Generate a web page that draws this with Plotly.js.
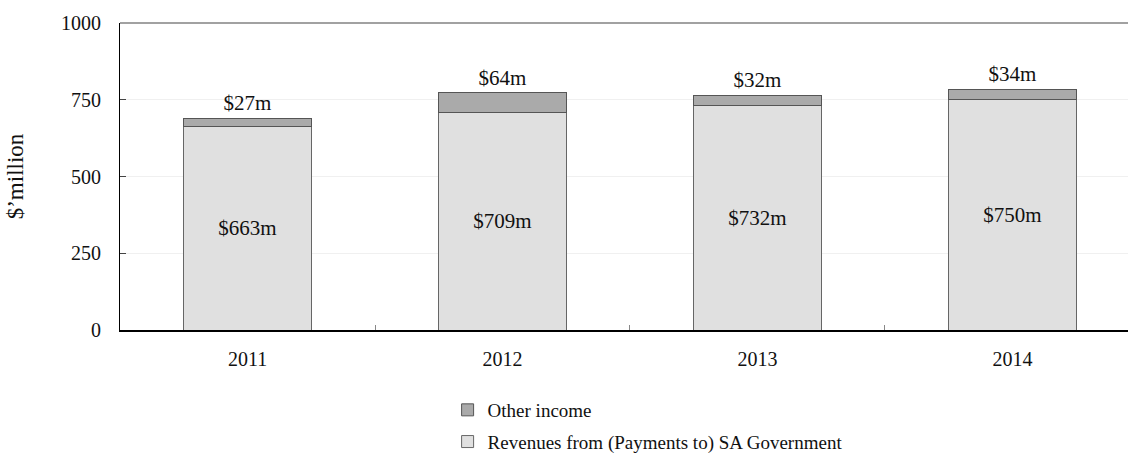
<!DOCTYPE html>
<html>
<head>
<meta charset="utf-8">
<script src="https://cdn.plot.ly/plotly-3.0.1.min.js"></script>
<style>html,body{margin:0;padding:0;background:#fff;}#chart{width:1128px;height:461px;}</style>
</head>
<body>
<div id="chart"></div>
<script>
const years = ['2011', '2012', '2013', '2014'];
const revenues = [663, 709, 732, 750];
const otherIncome = [27, 64, 32, 34];
const yTicks = [0, 250, 500, 750, 1000];

const FONT = '"Liberation Serif", "Times New Roman", serif';

const traces = [
  {
    type: 'bar', x: years, y: revenues, name: 'Revenues from (Payments to) SA Government',
    legendgroup: 'a', legendrank: 2,
    marker: {color: '#e0e0e0', line: {color: '#666666', width: 1}},
    width: 0.5,
    text: revenues.map(v => '$' + v + 'm'), textposition: 'inside', insidetextanchor: 'middle',
    textfont: {family: FONT, size: 21, color: '#111'},
    hoverinfo: 'none'
  },
  {
    type: 'bar', x: years, y: otherIncome, name: 'Other income',
    legendgroup: 'b', legendrank: 1,
    marker: {color: '#aaaaaa', line: {color: '#555555', width: 1}},
    width: 0.5,
    text: otherIncome.map(v => '$' + v + 'm'), textposition: 'outside',
    textfont: {family: FONT, size: 21, color: '#111'},
    cliponaxis: false,
    hoverinfo: 'none'
  }
];

const layout = {
  width: 1128, height: 461,
  margin: {l: 120, r: 0, t: 23, b: 130},
  paper_bgcolor: '#fff', plot_bgcolor: '#fff',
  barmode: 'stack',
  font: {family: FONT, size: 16, color: '#111'},
  showlegend: true,
  legend: {
    orientation: 'v', traceorder: 'grouped', tracegroupgap: 4,
    x: 0.325, xanchor: 'left', y: -0.2, yanchor: 'top',
    font: {family: FONT, size: 19, color: '#111'},
    itemwidth: 30
  },
  xaxis: {
    type: 'category', range: [-0.5, 3.453],
    tickson: 'boundaries', ticks: 'inside', ticklen: 5, tickcolor: '#888',
    showline: true, linecolor: '#000', linewidth: 1.5,
    showgrid: false, tickfont: {family: FONT, size: 20, color: '#111'},
    ticklabelstandoff: 10,
    fixedrange: true
  },
  yaxis: {
    range: [0, 1000], tickvals: yTicks, ticktext: yTicks.map(String),
    ticks: 'inside', ticklen: 6, tickcolor: '#444',
    showline: true, linecolor: '#000', linewidth: 1,
    showgrid: true, gridcolor: '#f0f0f0', zeroline: false,
    tickfont: {family: FONT, size: 20, color: '#111'},
    ticklabelstandoff: 14,
    title: {text: '$\u2019million', font: {family: FONT, size: 23, color: '#111'}, standoff: 30},
    automargin: false,
    fixedrange: true
  },
  shapes: [
    {type: 'line', xref: 'paper', yref: 'paper', x0: 0, x1: 1, y0: 1, y1: 1, line: {color: '#444', width: 1.2}}
  ]
};

Plotly.newPlot('chart', traces, layout, {displayModeBar: false, staticPlot: true});
</script>
</body>
</html>
